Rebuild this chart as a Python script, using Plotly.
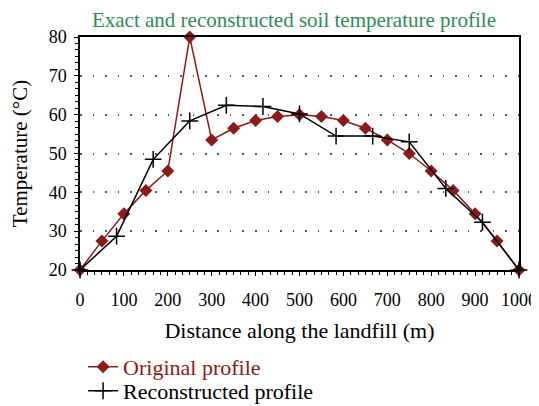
import plotly.graph_objects as go

orig_x = [0, 50, 100, 150, 200, 250, 300, 350, 400, 450, 500, 550, 600, 650, 700, 750, 800, 850, 900, 950, 1000]
orig_y = [20, 27.5, 34.5, 40.5, 45.5, 80, 53.5, 56.5, 58.5, 59.5, 60, 59.5, 58.5, 56.5, 53.5, 50, 45.5, 40.5, 34.5, 27.5, 20]

rec_x = [0, 83.3, 166.7, 250, 333.3, 416.7, 500, 583.3, 666.7, 750, 833.3, 916.7, 1000]
rec_y = [20, 28.7, 48.5, 58.4, 62.4, 62.1, 60.2, 54.5, 54.5, 53.0, 41.0, 32.3, 20]

x_ticks = [0, 100, 200, 300, 400, 500, 600, 700, 800, 900, 1000]
y_ticks = [20, 30, 40, 50, 60, 70, 80]

RED = "#8b1a1a"
FONT = "Liberation Serif"

fig = go.Figure()
fig.add_trace(go.Scatter(
    x=orig_x, y=orig_y, mode="lines+markers",
    name=f"<span style='color:{RED}'>Original profile</span>",
    line=dict(color=RED, width=1.5),
    marker=dict(symbol="diamond", size=10, color=RED),
    cliponaxis=False, legend="legend",
))
fig.add_trace(go.Scatter(
    x=rec_x, y=rec_y, mode="lines+markers",
    name="Reconstructed profile",
    line=dict(color="black", width=1.5),
    marker=dict(symbol="cross-thin", size=12, line=dict(color="black", width=1.5)),
    cliponaxis=False, legend="legend2",
))

leg_common = dict(x=0.007, xanchor="left", yanchor="middle",
                  font=dict(family=FONT, size=22), itemwidth=30,
                  bgcolor="rgba(0,0,0,0)")

fig.update_layout(
    width=539, height=440,
    margin=dict(l=72, r=28, t=29, b=178),
    paper_bgcolor="white", plot_bgcolor="white",
    font=dict(family=FONT, size=18, color="black"),
    title=dict(text="Exact and reconstructed soil temperature profile",
               font=dict(family=FONT, size=21, color="#2e8b57"),
               x=0.5306, xanchor="center", xref="container",
               y=1 - 12 / 440, yref="container", yanchor="middle"),
    showlegend=True,
    legend=dict(y=-0.416, **leg_common),
    legend2=dict(y=-0.519, **leg_common),
)
fig.update_xaxes(
    range=[0, 1000], tickvals=x_ticks, ticktext=[str(v) for v in x_ticks],
    showline=True, linecolor="black", linewidth=1.5, mirror=True,
    ticks="outside", ticklen=4, tickcolor="black",
    minor=dict(dtick=100/6, tick0=0, ticks="outside", ticklen=3, tickcolor="black"),
    showgrid=False, zeroline=False, automargin=False,
    ticklabelstandoff=9,
    title=dict(text="Distance along the landfill (m)", standoff=13,
               font=dict(family=FONT, size=22)),
    tickfont=dict(family=FONT, size=18),
)
fig.update_yaxes(
    range=[20, 80], tickvals=y_ticks, ticktext=[str(v) for v in y_ticks],
    showline=True, linecolor="black", linewidth=1.5, mirror=True,
    ticks="outside", ticklen=4, tickcolor="black",
    minor=dict(dtick=10/6, tick0=20, ticks="outside", ticklen=3, tickcolor="black"),
    showgrid=True, gridcolor="#555555", gridwidth=1.5, griddash="1.5px,11px",
    zeroline=False, automargin=False,
    ticklabelstandoff=4,
    title=dict(text="Temperature (°C)", standoff=18,
               font=dict(family=FONT, size=21)),
    tickfont=dict(family=FONT, size=18),
)

fig.write_html("out.html")
